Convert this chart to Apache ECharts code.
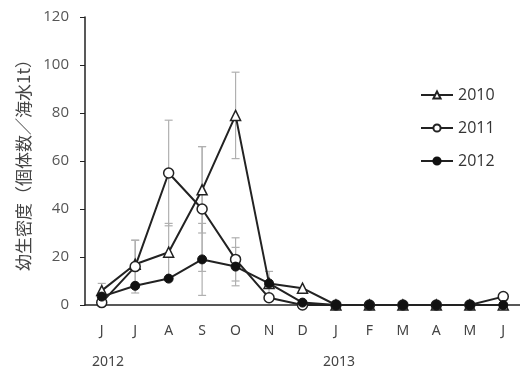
<html>
<head>
    <meta charset="utf-8">
    <script src="https://cdn.jsdelivr.net/npm/echarts@6/dist/echarts.min.js"></script>
    <style>
        body { margin: 0; background: #fff; }
        #chart { width: 520px; height: 372px; }
    </style>
</head>
<body>
    <div id="chart"></div>
    <script>
        var months = ['J', 'J', 'A', 'S', 'O', 'N', 'D', 'J', 'F', 'M', 'A', 'M', 'J'];
        var yTicks = [0, 20, 40, 60, 80, 100, 120];
        var years = ['2012', '2013'];

        var s2010 = [6, 17, 22, 48, 79, 9, 7, 0, 0, 0, 0, 0, 0];
        var s2011 = [1, 16, 55, 40, 19, 3, 0, 0, 0, 0, 0, 0, 3.5];
        var s2012 = [3.5, 8, 11, 19, 16, 9, 1, 0, 0, 0, 0, 0, 0];
        // standard deviations (grey error bars)
        var e2010 = [3, 10, 12, 18, 18, 0, 0, 0, 0, 0, 0, 0, 0];
        var e2011 = [0, 11, 22, 26, 9, 0, 0, 0, 0, 0, 0, 0, 0];
        var e2012 = [0, 0, 0, 15, 8, 5, 0, 0, 0, 0, 0, 0, 0];

        var chart = echarts.init(document.getElementById('chart'));

        function errData(vals, errs) {
            var out = [];
            for (var i = 0; i < vals.length; i++) {
                if (errs[i] > 0) out.push([i, vals[i] - errs[i], vals[i] + errs[i]]);
            }
            return out;
        }

        function renderErr(params, api) {
            var lo = api.coord([api.value(0), api.value(1)]);
            var hi = api.coord([api.value(0), api.value(2)]);
            var w = 4;
            var st = { stroke: '#b0b0b0', lineWidth: 1.2 };
            return {
                type: 'group',
                children: [
                    { type: 'line', shape: { x1: hi[0], y1: hi[1], x2: lo[0], y2: lo[1] }, style: st },
                    { type: 'line', shape: { x1: hi[0] - w, y1: hi[1], x2: hi[0] + w, y2: hi[1] }, style: st },
                    { type: 'line', shape: { x1: lo[0] - w, y1: lo[1], x2: lo[0] + w, y2: lo[1] }, style: st }
                ]
            };
        }

        var lineStyle = { color: '#222', width: 2 };

        var option = {
            animation: false,
            grid: { left: 85, right: -2, top: 17, bottom: 67 },
            legend: {
                orient: 'vertical',
                left: 415,
                top: 82,
                itemGap: 17,
                itemWidth: 32,
                itemHeight: 9,
                textStyle: { color: '#333', fontSize: 16, fontFamily: 'Open Sans' },
                data: ['2010', '2011', '2012']
            },
            xAxis: [{
                type: 'category',
                data: months,
                boundaryGap: true,
                axisLine: { lineStyle: { color: '#222', width: 1.5 } },
                axisTick: { length: 6, lineStyle: { color: '#222', width: 1.2 } },
                axisLabel: { color: '#444', fontSize: 14, margin: 19, fontFamily: 'Noto Sans' }
            }, {
                type: 'category',
                data: months,
                position: 'bottom',
                boundaryGap: true,
                axisLine: { show: false },
                axisTick: { inside: true, length: 6, lineStyle: { color: '#222', width: 1.2 } },
                axisLabel: { show: false }
            }],
            yAxis: {
                type: 'value',
                min: yTicks[0],
                max: yTicks[yTicks.length - 1],
                interval: 20,
                name: '幼生密度（個体数／海水1t）',
                nameLocation: 'middle',
                nameGap: 52,
                nameTextStyle: { color: '#444', fontSize: 17, fontFamily: 'Noto Sans CJK JP' },
                axisLine: { show: true, lineStyle: { color: '#222', width: 1.5 } },
                axisTick: { show: true, length: 5, lineStyle: { color: '#222' } },
                splitLine: { show: false },
                axisLabel: { color: '#555', fontSize: 15, margin: 16, fontFamily: 'Open Sans' }
            },
            graphic: [
                { type: 'text', left: 92, top: 355, style: { text: years[0], fill: '#444', font: '14px "Noto Sans"' } },
                { type: 'text', left: 323, top: 355, style: { text: years[1], fill: '#444', font: '14px "Noto Sans"' } }
            ],
            series: [
                { type: 'custom', renderItem: renderErr, data: errData(s2010, e2010), z: 1, silent: true },
                { type: 'custom', renderItem: renderErr, data: errData(s2011, e2011), z: 1, silent: true },
                { type: 'custom', renderItem: renderErr, data: errData(s2012, e2012), z: 1, silent: true },
                {
                    name: '2010', type: 'line', data: s2010, z: 3,
                    symbol: 'triangle', symbolSize: 10,
                    lineStyle: lineStyle,
                    itemStyle: { color: '#fff', borderColor: '#222', borderWidth: 1.5 }
                },
                {
                    name: '2011', type: 'line', data: s2011, z: 4,
                    symbol: 'circle', symbolSize: 10,
                    lineStyle: lineStyle,
                    itemStyle: { color: '#fff', borderColor: '#222', borderWidth: 1.5 }
                },
                {
                    name: '2012', type: 'line', data: s2012, z: 5,
                    symbol: 'circle', symbolSize: 9,
                    lineStyle: lineStyle,
                    itemStyle: { color: '#111', borderColor: '#111', borderWidth: 1 }
                }
            ]
        };

        chart.setOption(option);
        window.onresize = chart.resize;
    </script>
</body>
</html>
